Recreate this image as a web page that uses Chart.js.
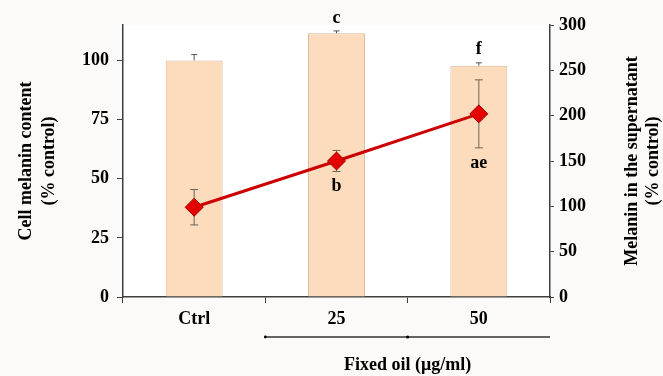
<!DOCTYPE html>
<html>
<head>
<meta charset="utf-8">
<script src="https://cdn.jsdelivr.net/npm/chart.js@4.4.0/dist/chart.umd.min.js"></script>
<style>
html, body { margin: 0; padding: 0; background: #fbfaf8; }
</style>
</head>
<body>
<canvas id="melaninChart" width="663" height="376"></canvas>
<script>
// data
const groups = ['Ctrl', '25', '50'];
const cellMelanin = [100, 111.5, 97.8];
const cellMelaninErr = [2.5, 1.0, 1.2];
const cellLetters = ['', 'c', 'f'];
const supernatant = [99, 150, 202];
const supernatantErr = [19.5, 11.6, 37.5];
const supernatantLetters = ['', 'b', 'ae'];
const leftTitle = ['Cell melanin content', '(% control)'];
const rightTitle = ['Melanin in the supernatant', '(% control)'];
const xTitle = 'Fixed oil (\u03bcg/ml)';

const serif = '"Liberation Serif", "DejaVu Serif", serif';
const axisColor = '#3f3f3f';

const backgroundPlugin = {
    id: 'background',
    beforeDraw(chart) {
        const ctx = chart.ctx;
        const a = chart.chartArea;
        ctx.save();
        ctx.fillStyle = '#fbfaf8';
        ctx.fillRect(0, 0, chart.width, chart.height);
        ctx.fillStyle = '#ffffff';
        ctx.fillRect(a.left, a.top, a.right - a.left, a.bottom - a.top);
        ctx.restore();
    }
};

// error bars drawn right after the bars, so the line sits on top
const errorBarPlugin = {
    id: 'errorBars',
    afterDatasetDraw(chart, args) {
        if (args.index !== 0) return;
        const ctx = chart.ctx;
        const x = chart.scales.x;
        const y = chart.scales.y;
        const y1 = chart.scales.y1;
        ctx.save();
        ctx.lineWidth = 1;
        // bar whiskers (upper only)
        ctx.strokeStyle = '#555555';
        cellMelanin.forEach((v, i) => {
            const cx = x.getPixelForValue(i);
            const top = y.getPixelForValue(v + cellMelaninErr[i]);
            const base = y.getPixelForValue(v);
            ctx.beginPath();
            ctx.moveTo(cx, base);
            ctx.lineTo(cx, top);
            ctx.moveTo(cx - 3, top);
            ctx.lineTo(cx + 3, top);
            ctx.stroke();
        });
        // line whiskers
        ctx.strokeStyle = '#6e6256';
        supernatant.forEach((v, i) => {
            const cx = x.getPixelForValue(i);
            const top = y1.getPixelForValue(v + supernatantErr[i]);
            const bot = y1.getPixelForValue(v - supernatantErr[i]);
            ctx.beginPath();
            ctx.moveTo(cx, top);
            ctx.lineTo(cx, bot);
            ctx.moveTo(cx - 4, top);
            ctx.lineTo(cx + 4, top);
            ctx.moveTo(cx - 4, bot);
            ctx.lineTo(cx + 4, bot);
            ctx.stroke();
        });
        ctx.restore();
    }
};

const textPlugin = {
    id: 'texts',
    afterDraw(chart) {
        const ctx = chart.ctx;
        const x = chart.scales.x;
        const y = chart.scales.y;
        const y1 = chart.scales.y1;
        const a = chart.chartArea;
        ctx.save();
        ctx.fillStyle = '#000000';
        ctx.font = 'bold 18px ' + serif;
        ctx.textAlign = 'center';
        ctx.textBaseline = 'middle';

        // significance letters
        cellLetters.forEach((t, i) => {
            if (!t) return;
            ctx.fillText(t, x.getPixelForValue(i), y.getPixelForValue(cellMelanin[i] + cellMelaninErr[i]) - 13);
        });
        supernatantLetters.forEach((t, i) => {
            if (!t) return;
            ctx.fillText(t, x.getPixelForValue(i), y1.getPixelForValue(supernatant[i] - supernatantErr[i]) + 15);
        });

        // axis titles, both reading bottom to top
        const midY = (a.top + a.bottom) / 2;
        [[leftTitle, 26, 49], [rightTitle, 632, 653]].forEach(([lines, x0, x1]) => {
            ctx.save();
            ctx.translate(x0, midY);
            ctx.rotate(-Math.PI / 2);
            ctx.fillText(lines[0], 0, 0);
            ctx.restore();
            ctx.save();
            ctx.translate(x1, midY);
            ctx.rotate(-Math.PI / 2);
            ctx.fillText(lines[1], 0, 0);
            ctx.restore();
        });

        // bracket under the fixed oil groups
        const from = x.getPixelForValue(0.5);
        const to = a.right;
        const lineY = a.bottom + 40;
        ctx.strokeStyle = '#333333';
        ctx.lineWidth = 1.3;
        ctx.beginPath();
        ctx.moveTo(from, lineY);
        ctx.lineTo(to, lineY);
        ctx.stroke();
        ctx.beginPath();
        ctx.arc(x.getPixelForValue(1.5), lineY, 1.6, 0, Math.PI * 2);
        ctx.fill();
        ctx.beginPath();
        ctx.arc(from, lineY, 1.4, 0, Math.PI * 2);
        ctx.fill();

        ctx.fillText(xTitle, x.getPixelForValue(1.5), a.bottom + 68);
        ctx.restore();
    }
};

const ctx = document.getElementById('melaninChart').getContext('2d');
const melaninChart = new Chart(ctx, {
    data: {
        labels: groups,
        datasets: [{
            type: 'bar',
            label: 'Cell melanin content',
            data: cellMelanin,
            yAxisID: 'y',
            backgroundColor: '#fddcbd',
            borderColor: '#d9b899',
            borderWidth: 1,
            barPercentage: 0.4,
            categoryPercentage: 1,
            order: 1
        }, {
            type: 'line',
            label: 'Melanin in the supernatant',
            data: supernatant,
            yAxisID: 'y1',
            borderColor: '#cc0000',
            borderWidth: 3,
            pointStyle: 'rectRot',
            pointRadius: 9,
            pointBackgroundColor: '#e20000',
            pointBorderColor: '#a80000',
            pointBorderWidth: 1,
            tension: 0,
            order: 0
        }]
    },
    options: {
        responsive: false,
        animation: false,
        layout: { padding: { top: 25 } },
        plugins: {
            legend: { display: false },
            tooltip: { enabled: false }
        },
        scales: {
            x: {
                offset: true,
                grid: {
                    offset: true,
                    drawOnChartArea: false,
                    drawTicks: true,
                    tickLength: 6,
                    color: axisColor
                },
                border: { color: axisColor, width: 1.5 },
                ticks: {
                    color: '#000000',
                    padding: 6,
                    font: { family: serif, size: 18, weight: 'bold' }
                },
                afterFit(scale) { scale.height = 79; }
            },
            y: {
                position: 'left',
                min: 0,
                max: 115,
                ticks: {
                    stepSize: 25,
                    color: '#000000',
                    padding: 8,
                    font: { family: serif, size: 18, weight: 'bold' }
                },
                afterBuildTicks(scale) {
                    scale.ticks = scale.ticks.filter(t => t.value <= 100);
                },
                grid: {
                    drawOnChartArea: false,
                    tickLength: 6,
                    color: axisColor
                },
                border: { color: axisColor, width: 1.5 },
                afterFit(scale) { scale.width = 123; }
            },
            y1: {
                position: 'right',
                min: 0,
                max: 300,
                ticks: {
                    stepSize: 50,
                    color: '#000000',
                    padding: 5,
                    font: { family: serif, size: 18, weight: 'bold' }
                },
                grid: {
                    drawOnChartArea: false,
                    tickLength: 4,
                    color: axisColor
                },
                border: { color: axisColor, width: 1.5 },
                afterFit(scale) { scale.width = 113; }
            }
        }
    },
    plugins: [backgroundPlugin, errorBarPlugin, textPlugin]
});
</script>
</body>
</html>
